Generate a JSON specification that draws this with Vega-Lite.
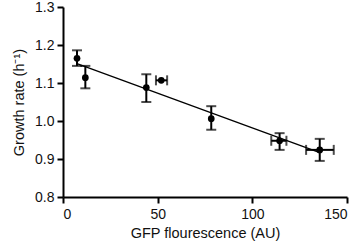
{
  "$schema": "https://vega.github.io/schema/vega-lite/v6.json",
  "width": 284,
  "height": 190,
  "autosize": {"type": "none"},
  "padding": {"left": 63, "top": 7, "right": 13, "bottom": 48},
  "background": "white",
  "config": {
    "view": {"stroke": null},
    "axis": {
      "grid": false,
      "domainColor": "black",
      "domainWidth": 2,
      "tickColor": "black",
      "tickWidth": 2,
      "tickSize": 6,
      "labelOverlap": false,
      "labelFont": "Liberation Sans",
      "labelFontSize": 14,
      "labelColor": "#111",
      "titleFont": "Liberation Sans",
      "titleFontSize": 14.5,
      "titleFontWeight": "normal",
      "titleColor": "#111"
    }
  },
  "datasets": {
    "pts": [
      {"gfp": 7.4, "rate": 1.165, "ylo": 1.145, "yhi": 1.186, "xlo": null, "xhi": null},
      {"gfp": 11.8, "rate": 1.114, "ylo": 1.086, "yhi": 1.145, "xlo": null, "xhi": null},
      {"gfp": 44.0, "rate": 1.088, "ylo": 1.050, "yhi": 1.123, "xlo": null, "xhi": null},
      {"gfp": 51.9, "rate": 1.107, "ylo": null, "yhi": null, "xlo": 49.1, "xhi": 55.0},
      {"gfp": 78.3, "rate": 1.006, "ylo": 0.977, "yhi": 1.039, "xlo": null, "xhi": null},
      {"gfp": 114.4, "rate": 0.948, "ylo": 0.924, "yhi": 0.968, "xlo": 110.0, "xhi": 118.0},
      {"gfp": 135.6, "rate": 0.924, "ylo": 0.895, "yhi": 0.953, "xlo": 128.4, "xhi": 143.0}
    ],
    "fit": [
      {"gfp": 7.4, "rate": 1.151},
      {"gfp": 135.6, "rate": 0.917}
    ]
  },
  "layer": [
    {
      "data": {"name": "fit"},
      "mark": {"type": "line", "color": "black", "strokeWidth": 1.3},
      "encoding": {
        "x": {"field": "gfp", "type": "quantitative", "title": "GFP flourescence (AU)", "scale": {"domain": [0, 150], "nice": false},
              "axis": {"values": [0, 50, 100, 150], "labelPadding": 4, "titlePadding": 5}},
        "y": {"field": "rate", "type": "quantitative", "title": "Growth rate (h⁻¹)", "scale": {"domain": [0.8, 1.3], "nice": false, "zero": false},
              "axis": {"values": [0.8, 0.9, 1.0, 1.1, 1.2, 1.3], "format": ".1f", "labelPadding": 3, "titlePadding": 8}}
      }
    },
    {
      "data": {"name": "pts"},
      "transform": [{"filter": "datum.ylo != null"}],
      "mark": {"type": "errorbar", "ticks": {"size": 10, "thickness": 2, "color": "black"}, "rule": {"strokeWidth": 2, "color": "black"}},
      "encoding": {
        "x": {"field": "gfp", "type": "quantitative", "title": "GFP flourescence (AU)",
              "axis": {"values": [0, 50, 100, 150], "labelPadding": 4, "titlePadding": 5}},
        "y": {"field": "ylo", "type": "quantitative", "title": "Growth rate (h⁻¹)",
              "axis": {"values": [0.8, 0.9, 1.0, 1.1, 1.2, 1.3], "format": ".1f", "labelPadding": 3, "titlePadding": 8}},
        "y2": {"field": "yhi"}
      }
    },
    {
      "data": {"name": "pts"},
      "transform": [{"filter": "datum.xlo != null"}],
      "mark": {"type": "errorbar", "ticks": {"size": 10, "thickness": 2, "color": "black"}, "rule": {"strokeWidth": 2, "color": "black"}},
      "encoding": {
        "y": {"field": "rate", "type": "quantitative", "title": "Growth rate (h⁻¹)",
              "axis": {"values": [0.8, 0.9, 1.0, 1.1, 1.2, 1.3], "format": ".1f", "labelPadding": 3, "titlePadding": 8}},
        "x": {"field": "xlo", "type": "quantitative", "title": "GFP flourescence (AU)",
              "axis": {"values": [0, 50, 100, 150], "labelPadding": 4, "titlePadding": 5}},
        "x2": {"field": "xhi"}
      }
    },
    {
      "data": {"name": "pts"},
      "mark": {"type": "point", "shape": "circle", "filled": true, "color": "black", "opacity": 1, "size": 45},
      "encoding": {
        "x": {"field": "gfp", "type": "quantitative", "title": "GFP flourescence (AU)",
              "axis": {"values": [0, 50, 100, 150], "labelPadding": 4, "titlePadding": 5}},
        "y": {"field": "rate", "type": "quantitative", "title": "Growth rate (h⁻¹)",
              "axis": {"values": [0.8, 0.9, 1.0, 1.1, 1.2, 1.3], "format": ".1f", "labelPadding": 3, "titlePadding": 8}}
      }
    }
  ]
}
